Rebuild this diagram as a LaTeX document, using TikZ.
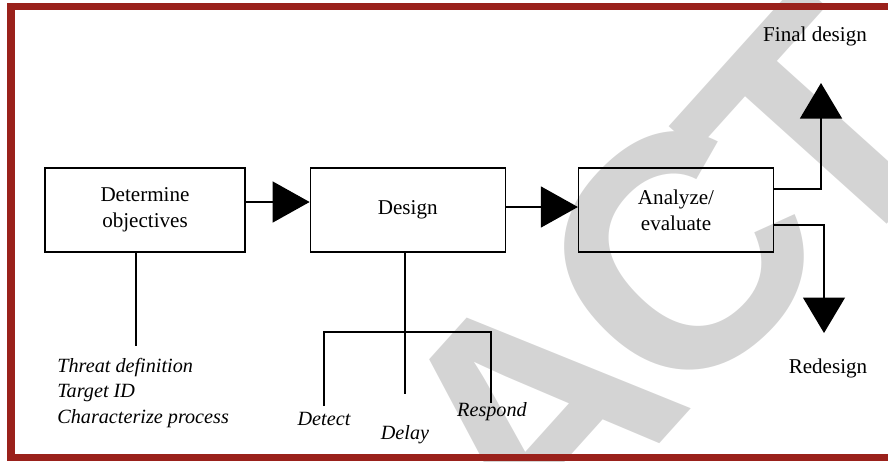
\documentclass[tikz,border=0pt]{standalone}
\usepackage{fontspec}
\setmainfont{Liberation Serif}
\newfontfamily\wmfont{Liberation Sans}
\usetikzlibrary{arrows.meta,positioning}
\definecolor{Maroon}{HTML}{9A211B}
\definecolor{WGray}{HTML}{D4D4D4}

\begin{document}
\begin{tikzpicture}[x=0.02cm,y=-0.02cm,
    font=\fontsize{12}{14.7}\selectfont,
    blk/.style={draw=black,line width=0.75pt,minimum height=1.68cm,
      minimum width=3.9cm,align=center},
    lbl/.style={font=\fontsize{11.5}{14.5}\selectfont\itshape,inner sep=0pt},
    lnk/.style={line width=0.75pt},
    rtip/.style={-{Triangle[length=0.74cm,width=0.82cm]}},
    vtip/.style={-{Triangle[length=0.71cm,width=0.84cm]}},
    wm/.style={text=WGray,font=\wmfont\bfseries\fontsize{188}{188}\selectfont,rotate=48}]
  \useasboundingbox (0,0) rectangle (888,461);
  % watermark
  \node[wm] (wA) at (533,415) {A};
  \node[wm,rotate=-3] (wC) at (680,256) {C};
  \node[wm] (wT) at (819,130) {T};
  \draw[Maroon,line width=0.15cm] (11,6.5) rectangle (900,457.5);
  % main chain
  \node[blk,minimum width=4cm] (obj) at (145,210) {Determine\\objectives};
  \node[blk,right=1.28cm of obj] (des) {Design};
  \node[blk,right=1.44cm of des] (ana) {Analyze/\\evaluate};
  \draw[lnk,rtip] ([yshift=0.16cm]obj.east) -- ([yshift=0.16cm]des.west);
  \draw[lnk,rtip] ([yshift=0.06cm]des.east) -- ([yshift=0.06cm]ana.west);
  % outcomes
  \coordinate (upT) at (821,83);
  \coordinate (dnT) at (824,333);
  \draw[lnk,vtip] ([yshift=0.42cm]ana.east) -| (upT);
  \draw[lnk,vtip] ([yshift=-0.3cm]ana.east) -| (dnT);
  \node (fin) at (815,36) {Final design};
  \node (red) at (828,368) {Redesign};
  % objectives
  \coordinate (objB) at (136,346);
  \draw[lnk] (obj.south -| objB) -- (objB);
  \node[lbl,anchor=west,align=left] (thr) at (57,393) {Threat definition\\Target ID\\Characterize process};
  % design elements
  \coordinate (dlyE) at (405,394);
  \coordinate (barL) at (324,332);
  \coordinate (barR) at (491,332);
  \coordinate (dtcE) at (324,406);
  \coordinate (rspE) at (491,403);
  \draw[lnk] (des.south -| dlyE) -- (dlyE);
  \draw[lnk] (dtcE) -- (barL) -- (barR) -- (rspE);
  \node[lbl] (dtc) at (324,419) {Detect};
  \node[lbl] (dly) at (405,435) {Delay};
  \node[lbl] (rsp) at (492,412) {Respond};
\end{tikzpicture}
\end{document}
